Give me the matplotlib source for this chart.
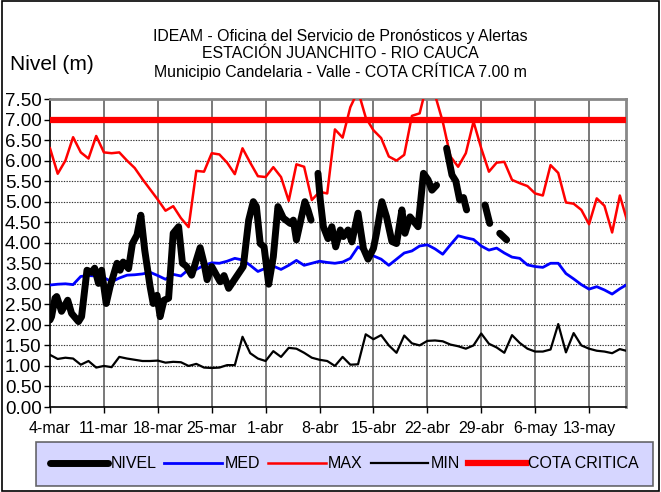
import numpy as np
import matplotlib.pyplot as plt
from matplotlib.patches import Rectangle

plt.rcParams['font.family'] = ['Liberation Sans', 'DejaVu Sans']

# dias contados desde el 4 de marzo
tick_days = [0, 7, 14, 21, 28, 35, 42, 49, 56, 63, 70]
tick_labels = ['4-mar', '11-mar', '18-mar', '25-mar', '1-abr', '8-abr',
               '15-abr', '22-abr', '29-abr', '6-may', '13-may']

# series diarias (MAX, MED, MIN) del 4-mar al 18-may
dias = np.arange(0, 76)
nivel_max = [6.3, 5.68, 6.0, 6.57, 6.2, 6.05, 6.6, 6.2, 6.18, 6.2,
             6.0, 5.82, 5.55, 5.3, 5.05, 4.78, 4.89, 4.6, 4.38, 5.75,
             5.73, 6.18, 6.15, 5.95, 5.67, 6.3, 5.95, 5.62, 5.6, 5.84,
             5.6, 5.02, 5.91, 5.85, 5.04, 5.24, 5.2, 6.76, 6.56, 7.3,
             7.7, 7.05, 6.74, 6.55, 6.1, 6.0, 6.14, 7.09, 7.15, 7.9,
             7.6, 6.95, 6.1, 5.85, 6.18, 6.95, 6.3, 5.73, 5.95, 5.97,
             5.53, 5.45, 5.38, 5.2, 5.15, 5.89, 5.7, 4.98, 4.95, 4.8,
             4.45, 5.08, 4.9, 4.25, 5.15, 4.5]
nivel_med = [2.97, 2.99, 3.0, 2.98, 3.18, 3.2, 3.19, 3.15, 3.05, 3.14,
             3.21, 3.22, 3.24, 3.28, 3.2, 3.11, 3.23, 3.19, 3.35, 3.35,
             3.45, 3.51, 3.5, 3.55, 3.62, 3.58, 3.45, 3.3, 3.38, 3.43,
             3.35, 3.45, 3.57, 3.45, 3.5, 3.55, 3.52, 3.5, 3.53, 3.62,
             3.9, 3.78, 3.68, 3.6, 3.45, 3.6, 3.75, 3.8, 3.92, 3.95,
             3.85, 3.72, 3.95, 4.17, 4.12, 4.08, 3.92, 3.82, 3.87, 3.75,
             3.65, 3.62, 3.46, 3.42, 3.4, 3.5, 3.5, 3.25, 3.12, 2.98,
             2.87, 2.93, 2.85, 2.75, 2.88, 2.99]
nivel_min = [1.27, 1.17, 1.2, 1.18, 1.03, 1.12, 0.96, 1.0, 0.97, 1.22,
             1.18, 1.15, 1.12, 1.12, 1.13, 1.08, 1.1, 1.09, 1.0, 1.05,
             0.96, 0.95, 0.96, 1.02, 1.02, 1.71, 1.31, 1.18, 1.12, 1.36,
             1.22, 1.44, 1.42, 1.32, 1.2, 1.15, 1.12, 1.0, 1.22, 1.03,
             1.04, 1.77, 1.65, 1.75, 1.5, 1.32, 1.74, 1.55, 1.5, 1.61,
             1.62, 1.6, 1.52, 1.48, 1.42, 1.5, 1.79, 1.54, 1.45, 1.32,
             1.75, 1.56, 1.42, 1.35, 1.35, 1.4, 2.02, 1.33, 1.8, 1.5,
             1.42, 1.37, 1.35, 1.31, 1.41, 1.36]

# lecturas de nivel (NaN = sin dato)
t_nivel = [0.0, 0.2, 0.65, 0.87, 1.5, 2.3, 2.8, 3.7, 4.1, 4.8,
           5.4, 5.8, 6.3, 6.7, 7.3, 7.8, 8.7, 9.1, 9.5, 10.2,
           10.7, 11.3, 11.8, 12.3, 13.0, 13.4, 13.9, 14.3, 14.8, 15.4,
           16.0, 16.7, 17.2, 17.7, 18.4, 19.5, 20.0, 20.4, 21.0, 22.1,
           22.6, 23.2, 24.2, 25.1, 25.8, 26.4, 26.8, 27.3, 27.8, 28.4,
           29.0, 29.6, 30.3, 31.2, 31.6, 32.0, 33.1, 33.5, 33.9, 34.3,
           34.8, 35.1, 35.5, 36.1, 36.6, 37.1, 37.7, 38.1, 38.7, 39.2,
           40.0, 40.7, 41.3, 42.0, 42.4, 43.1, 43.7, 44.4, 45.0, 45.7,
           46.1, 46.75, 47.8, 48.5, 49.1, 49.6, 50.2, 50.8, 51.5, 52.2,
           52.7, 53.2, 53.7, 54.1, 55.3, 56.5, 57.1, 57.8, 58.4, 59.3]
v_nivel = [2.12, 2.2, 2.65, 2.69, 2.33, 2.6, 2.28, 2.08, 2.2, 3.33,
           3.28, 3.38, 3.01, 3.33, 2.52, 2.93, 3.5, 3.33, 3.53, 3.37,
           3.98, 4.19, 4.67, 3.82, 2.93, 2.52, 2.72, 2.2, 2.6, 2.65,
           4.23, 4.39, 3.5, 3.43, 3.21, 3.88, 3.5, 3.1, 3.42, 3.05,
           3.2, 2.89, 3.17, 3.42, 4.55, 5.0, 4.88, 3.98, 3.9, 2.99,
           3.66, 4.88, 4.6, 4.47, 4.55, 4.07, 5.0, 4.8, 4.55, np.nan,
           5.69, 5.04, 4.39, 4.1, 4.39, 3.9, 4.31, 4.15, 4.31, 4.02,
           4.72, 3.86, 3.6, 3.86, 4.23, 5.0, 4.63, 4.03, 3.98, 4.8,
           4.23, 4.63, 4.39, 5.69, 5.53, 5.28, 5.4, np.nan, 6.3, 5.65,
           5.5, 5.04, 5.1, 4.8, np.nan, 4.92, 4.47, np.nan, 4.23, 4.07]

cota = 7.0

fig = plt.figure(figsize=(6.61, 4.92), dpi=100)
ax = fig.add_axes([50 / 661, 85 / 492, 576 / 661, 308 / 492])

for y in np.arange(0.5, 7.5, 0.5):
    ax.axhline(y, color='#333333', lw=0.8, ls=(0, (1.2, 1.2)), zorder=1)
for d in tick_days[1:]:
    ax.axvline(d, color='#555555', lw=1.1, zorder=1)

ax.plot(dias, nivel_med, color='#0000FF', lw=2.0, zorder=3, label='MED')
ax.plot(dias, nivel_max, color='#FF0000', lw=1.8, zorder=3, label='MAX')
ax.plot(dias, nivel_min, color='black', lw=1.6, zorder=3, label='MIN')
ax.axhline(cota, color='#FF0000', lw=4.5, zorder=4, label='COTA CRITICA')
ax.plot(t_nivel, v_nivel, color='black', lw=5, solid_capstyle='round',
        solid_joinstyle='round', zorder=5, label='NIVEL')

ax.set_xlim(0, 74.8)
ax.set_ylim(0, 7.5)
ax.set_yticks(np.arange(0, 7.51, 0.5))
ax.set_yticklabels(['%.2f' % v for v in np.arange(0, 7.51, 0.5)], fontsize=13.5)
ax.set_xticks(tick_days)
ax.set_xticklabels(tick_labels, fontsize=11.5)
ax.tick_params(direction='out', length=4, width=1, pad=2)
ax.tick_params(axis='x', pad=6)

for s in ['left', 'bottom']:
    ax.spines[s].set_color('black')
    ax.spines[s].set_linewidth(1.2)
for s in ['top', 'right']:
    ax.spines[s].set_color('#888888')
    ax.spines[s].set_linewidth(2)

fig.text(340 / 661, 1 - 54.5 / 492,
         'IDEAM - Oficina del Servicio de Pronósticos y Alertas\n'
         'ESTACIÓN JUANCHITO - RIO CAUCA\n'
         'Municipio Candelaria - Valle - COTA CRÍTICA 7.00 m',
         ha='center', va='center', fontsize=11.4, linespacing=1.12)
fig.text(10 / 661, 1 - 64 / 492, 'Nivel (m)', ha='left', va='center', fontsize=15)

handles, labels = ax.get_legend_handles_labels()
order = [labels.index(k) for k in ['NIVEL', 'MED', 'MAX', 'MIN', 'COTA CRITICA']]
leg = fig.legend([handles[i] for i in order], [labels[i] for i in order],
                 loc='center', ncol=5, mode='expand',
                 bbox_to_anchor=(36 / 661, 7 / 492, 617 / 661, 42 / 492),
                 frameon=True, fancybox=False, fontsize=11.5, handlelength=3.6,
                 handletextpad=0.15, columnspacing=0.6, borderpad=0.9,
                 borderaxespad=0)
leg.get_frame().set_facecolor('#CCCCFF')
leg.get_frame().set_edgecolor('#444444')
leg.get_frame().set_linewidth(1.2)

fig.patches.append(Rectangle((0.003, 0.003), 0.994, 0.994, transform=fig.transFigure,
                             fill=False, edgecolor='black', lw=1.2))

fig.savefig('out.png', dpi=100)
